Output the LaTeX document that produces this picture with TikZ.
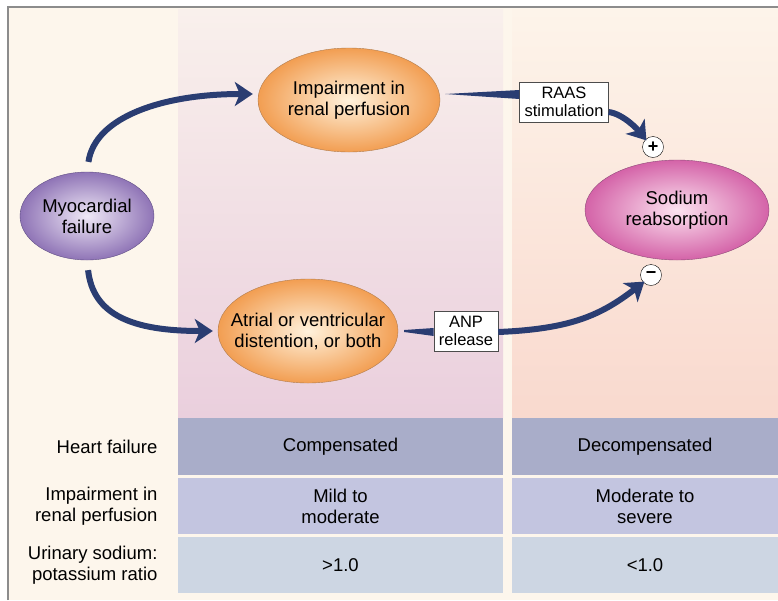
\documentclass[tikz,border=0pt]{standalone}
\usepackage{fontspec}
\setmainfont{Liberation Sans}
\usetikzlibrary{arrows.meta,shapes.geometric}

\definecolor{navy}{HTML}{2A3D72}
\definecolor{cream}{HTML}{FDF6EC}
\definecolor{frame}{HTML}{8C8C8C}
\definecolor{midbot}{HTML}{EACFDD}
\definecolor{midtop}{HTML}{F9F0EC}
\definecolor{rightbot}{HTML}{F9D9CE}
\definecolor{righttop}{HTML}{FDF4EA}
\definecolor{orangein}{HTML}{FFF2DC}
\definecolor{orangeout}{HTML}{F29E52}
\definecolor{orangeline}{HTML}{B07C4E}
\definecolor{myoin}{HTML}{EFE8F6}
\definecolor{myoout}{HTML}{8F74B6}
\definecolor{myoline}{HTML}{5F4E84}
\definecolor{sodin}{HTML}{FCE3F0}
\definecolor{sodout}{HTML}{D463A8}
\definecolor{sodline}{HTML}{8E4A78}
\definecolor{rowa}{HTML}{A9ADC9}
\definecolor{rowb}{HTML}{C3C5E0}
\definecolor{rowc}{HTML}{CDD6E3}

\tikzset{
  ball/.style={ellipse, inner xsep=-30pt, inner ysep=0pt, align=center, font=\fontsize{18.5}{21}\selectfont},
  orangeball/.style={ball, draw=orangeline, inner color=orangein, outer color=orangeout},
  tag/.style={draw=black!70, fill=white, align=center, inner sep=5pt, font=\fontsize{16.5}{18}\selectfont},
  sign/.style={circle, draw=black, fill=white, minimum size=21pt, inner sep=0pt, font=\bfseries\fontsize{18}{18}\selectfont},
  flow/.style={draw=navy, line width=6pt, -{Stealth[length=18pt,width=24pt,inset=5pt]}},
  cell/.style={inner sep=0pt, align=center, font=\fontsize{18.5}{21}\selectfont},
  rowlabel/.style={anchor=east, align=right, font=\fontsize{18.5}{21}\selectfont}
}

\begin{document}
\begin{tikzpicture}[x=1pt,y=-1pt]
    \useasboundingbox (0,0) rectangle (778,600);
    % background and frame
    \fill[white] (0,0) rectangle (778,600);
    \fill[cream] (8,7) rectangle (778,600);
    \shade[top color=midtop, bottom color=midbot] (178,9) rectangle (503,417);
    \shade[top color=righttop, bottom color=rightbot] (512,9) rectangle (778,417);
    \draw[frame, line width=1.5pt] (8,600) -- (8,7) -- (778,7);

    % the bubbles
    \node[ball, draw=myoline, inner color=myoin, outer color=myoout,
          minimum width=134pt, minimum height=88pt] (myo) at (87,216) {Myocardial\\failure};
    \node[orangeball, minimum width=182pt, minimum height=104pt] (imp) at (349,100) {Impairment in\\renal perfusion};
    \node[orangeball, minimum width=180pt, minimum height=104pt] (atr) at (308,331) {Atrial or ventricular\\distention, or both};
    \node[ball, draw=sodline, inner color=sodin, outer color=sodout,
          minimum width=184pt, minimum height=100pt] (sod) at (677,210) {Sodium\\reabsorption};

    % boxes and signs
    \node[tag] (raas) at (564,102) {RAAS\\stimulation};
    \node[tag] (anp) at (466,331) {ANP\\release};
    \node[sign] (plus) at (653,147) {+};
    \node[sign] (minus) at (651,275) {−};

    % arrows
    \draw[flow, shorten <=10pt] (myo.north) .. controls +(8,-55) and +(-90,0) .. ([shift={(-5,-6)}]imp.west);
    \draw[flow, shorten <=10pt, shorten >=5pt] (myo.south) .. controls +(6,55) and +(-85,0) .. (atr.west);
    \fill[navy] ([shift={(5,-6)}]imp.east) -- ([yshift=12pt]raas.west) -- ([yshift=3pt]raas.west) -- cycle;
    \draw[flow] ([yshift=-10pt]raas.east) .. controls +(15,2) and +(-8,-10) .. ([shift={(1,1)}]plus.north west);
    \fill[navy] ([shift={(6,-1)}]atr.east) -- ([yshift=3pt]anp.west) -- ([yshift=-5pt]anp.west) -- ([shift={(6,1)}]atr.east) -- cycle;
    \draw[flow] ([yshift=-1pt]anp.east) .. controls +(70,-3) and +(-45,35) .. ([shift={(1,-1)}]minus.south west);

    % the table
    \node[cell, fill=rowa, minimum width=325pt, minimum height=57pt] (hfc) at (340.5,446.5) {Compensated};
    \node[cell, fill=rowa, minimum width=266pt, minimum height=57pt] (hfd) at (645,446.5) {Decompensated};
    \node[cell, fill=rowb, minimum width=325pt, minimum height=56pt] (rpc) at (340.5,506) {Mild to\\moderate};
    \node[cell, fill=rowb, minimum width=266pt, minimum height=56pt] (rpd) at (645,506) {Moderate to\\severe};
    \node[cell, fill=rowc, minimum width=325pt, minimum height=56pt] (usc) at (340.5,565) {>1.0};
    \node[cell, fill=rowc, minimum width=266pt, minimum height=56pt] (usd) at (645,565) {<1.0};
    \node[rowlabel] (hf) at (161,446.5) {Heart failure};
    \node[rowlabel] (rp) at (161,506) {Impairment in\\renal perfusion};
    \node[rowlabel] (us) at (161,565) {Urinary sodium:\\potassium ratio};
\end{tikzpicture}
\end{document}
